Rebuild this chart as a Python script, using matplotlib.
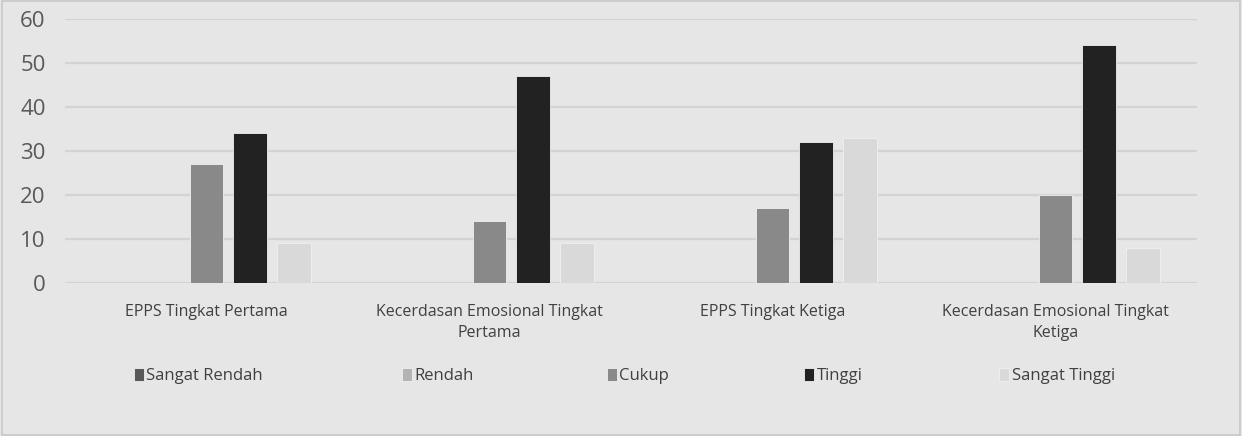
import matplotlib
matplotlib.use("Agg")
import matplotlib.pyplot as plt
import numpy as np

CATEGORIES = ["EPPS Tingkat Pertama", "Kecerdasan Emosional Tingkat\nPertama",
              "EPPS Tingkat Ketiga", "Kecerdasan Emosional Tingkat\nKetiga"]
SERIES = ["Sangat Rendah", "Rendah", "Cukup", "Tinggi", "Sangat Tinggi"]
SANGAT_RENDAH = [0, 0, 0, 0]
RENDAH = [0, 0, 0, 0]
CUKUP = [27, 14, 17, 20]
TINGGI = [34, 47, 32, 54]
SANGAT_TINGGI = [9, 9, 33, 8]
YTICKS = [0, 10, 20, 30, 40, 50, 60]

COLORS = ["#595959", "#b3b3b3", "#898989", "#222222", "#d9d9d9"]
BG = "#e6e6e6"

plt.rcParams["font.family"] = ["Open Sans", "DejaVu Sans"]

fig = plt.figure(figsize=(12.42, 4.36), dpi=100, facecolor=BG)
ax = fig.add_axes([65 / 1242, 1 - 283 / 436, 1132 / 1242, 264 / 436])
ax.set_facecolor(BG)

values = [SANGAT_RENDAH, RENDAH, CUKUP, TINGGI, SANGAT_TINGGI]
x = np.arange(len(CATEGORIES))
width = 0.12
pitch = 0.155
handles = []
for i, (name, vals, col) in enumerate(zip(SERIES, values, COLORS)):
    b = ax.bar(x + (i - 2) * pitch, vals, width, color=col, label=name,
               edgecolor="#f0f0f0", linewidth=0.6, zorder=3)
    handles.append(b)

ax.set_xlim(-0.5, len(CATEGORIES) - 0.5)
ax.set_ylim(0, 60)
ax.set_yticks(YTICKS)
ax.grid(axis="y", color="#d3d3d3", linewidth=1.6, zorder=0)
for s in ax.spines.values():
    s.set_visible(False)
ax.tick_params(axis="y", length=0, pad=14, labelsize=16, labelcolor="#595959")
ax.tick_params(axis="x", length=0, pad=15, labelsize=11.5, labelcolor="#404040")
ax.set_xticks(x)
ax.set_xticklabels(CATEGORIES, linespacing=1.45)

# legend entries are spread unevenly, so place each one on its own
legend_x = [134, 402, 607, 804, 999]
for h, name, lx in zip(handles, SERIES, legend_x):
    lg = fig.legend([h], [name], loc="center left",
                    bbox_to_anchor=(lx / 1242, 1 - 376 / 436),
                    frameon=False, fontsize=12, handlelength=0.6,
                    handleheight=0.8, handletextpad=0.15, borderpad=0,
                    borderaxespad=0)
    for t in lg.get_texts():
        t.set_color("#404040")

fig.patches.append(plt.Rectangle((0.002, 0.003), 0.996, 0.994, transform=fig.transFigure,
                                 fill=False, edgecolor="#c8c8c8", linewidth=1.2))

fig.savefig("out.png", dpi=100, facecolor=BG)
